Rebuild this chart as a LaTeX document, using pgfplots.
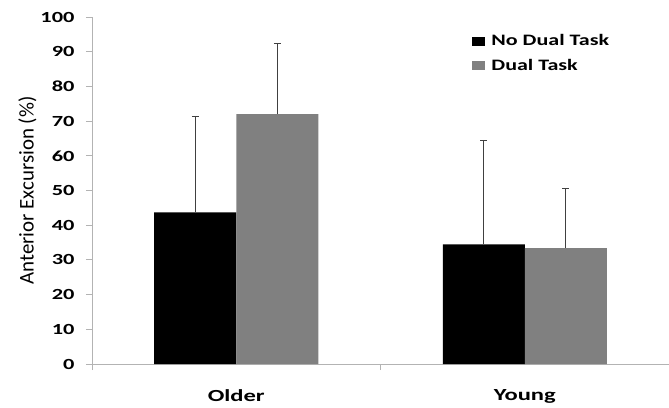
\documentclass[border=0pt]{standalone}
\usepackage{fontspec}
\setmainfont{Carlito}
\newfontfamily\widefont{Carlito}[FakeStretch=1.45]
\newfontfamily\legfont{Carlito}[FakeStretch=1.38]
\usepackage{pgfplots}
\pgfplotsset{compat=1.18}
\definecolor{axgray}{HTML}{B3B3B3}
\definecolor{bargray}{HTML}{808080}
\definecolor{errgray}{HTML}{404040}
\begin{document}
\begin{tikzpicture}
\begin{axis}[
  name=ax,
  scale only axis,
  width=577bp, height=347bp,
  xmin=-0.5, xmax=1.5,
  ymin=0, ymax=100,
  ytick={0,10,...,100},
  xtick={-0.5,0.5,1.5},
  x tick label as interval,
  xticklabels={Older,Young},
  axis x line*=bottom,
  axis y line*=left,
  axis line style={axgray, line width=0.8bp, -},
  tick style={axgray, line width=0.8bp},
  tick align=outside,
  major tick length=6bp,
  /pgf/number format/assume math mode=true,
  yticklabel style={font=\fontsize{15.5}{18}\widefont\bfseries, xshift=-8bp},
  xticklabel style={font=\fontsize{17}{19}\widefont\bfseries, yshift=-16bp},
  ylabel={Anterior Excursion (\%)},
  ylabel style={font=\fontsize{21}{23}\selectfont, yshift=-3bp},
  ybar=0pt,
  bar width=82bp,
  legend style={draw=none, fill=none, inner sep=0pt, at={(0.659,0.955)}, anchor=north west,
    font=\fontsize{16}{19}\legfont\bfseries, row sep=8bp,
    /tikz/every even column/.append style={column sep=0bp}},
  legend cell align=left,
  legend image code/.code={\fill[#1] (0bp,-4.5bp) rectangle (13bp,4.5bp); \path (17bp,0bp);},
  error bars/y dir=plus,
  error bars/y explicit,
  error bars/error bar style={errgray, line width=1bp},
  error bars/error mark options={errgray, line width=1bp, mark size=3.5bp, rotate=90},
]
\addplot[fill=black, draw=none] coordinates {
  (0,43.7) +- (0,27.5)
  (1,34.5) +- (0,30.0)
};
\addlegendentry{No Dual Task}
\addplot[fill=bargray, draw=none] coordinates {
  (0,72.0) +- (0,20.5)
  (1,33.4) +- (0,17.2)
};
\addlegendentry{Dual Task}
\end{axis}
\pgfresetboundingbox
\path[use as bounding box] ([xshift=-92bp,yshift=-44bp]ax.south west) rectangle ([yshift=17bp]ax.north east);
\end{tikzpicture}
\end{document}
